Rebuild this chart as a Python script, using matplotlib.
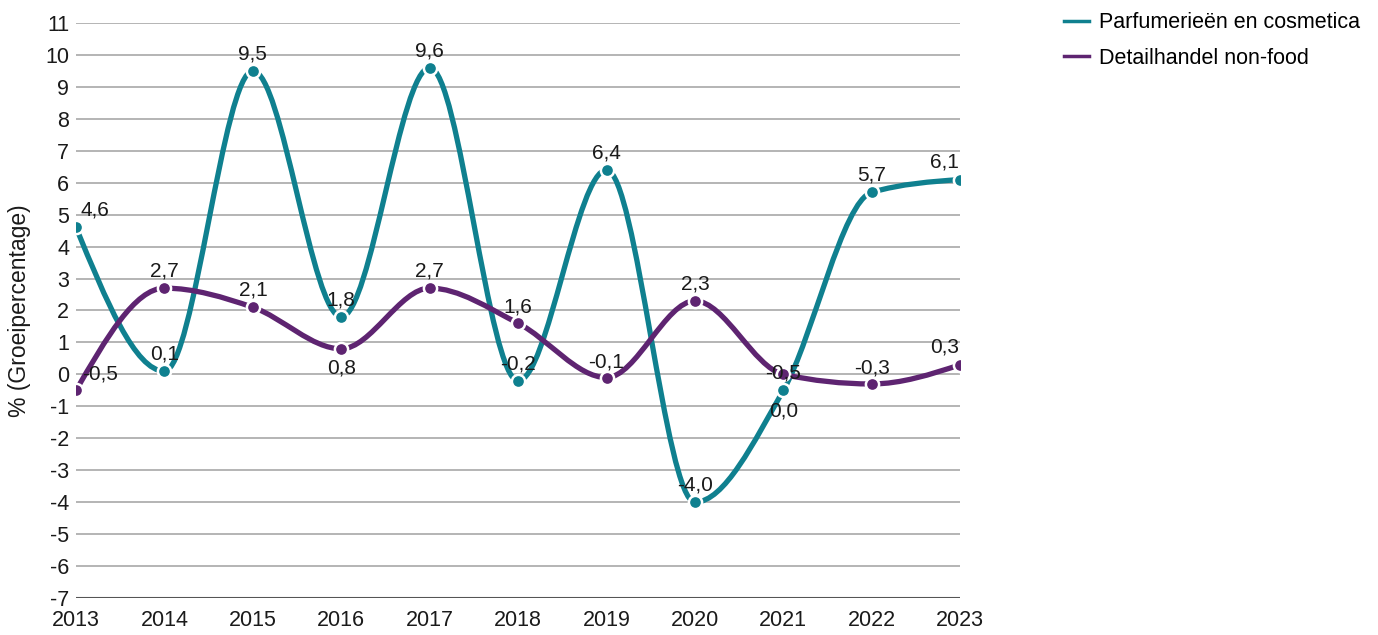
import numpy as np
import matplotlib.pyplot as plt
from matplotlib.path import Path
from matplotlib.patches import PathPatch

plt.rcParams['font.family'] = ['Liberation Sans', 'DejaVu Sans']
plt.rcParams['axes.unicode_minus'] = False

years = [2013, 2014, 2015, 2016, 2017, 2018, 2019, 2020, 2021, 2022, 2023]
parfum = [4.6, 0.1, 9.5, 1.8, 9.6, -0.2, 6.4, -4.0, -0.5, 5.7, 6.1]
detail = [-0.5, 2.7, 2.1, 0.8, 2.7, 1.6, -0.1, 2.3, 0.0, -0.3, 0.3]
series_names = ['Parfumerieën en cosmetica', 'Detailhandel non-food']
colors = ['#0f808f', '#5e2471']

# label offsets in pixels (dx, dy, ha)
offs_parfum = [(4, 17, 'left')] + [(0, 17, 'center')] * 9 + [(-16, 18, 'center')]
offs_detail = [(6, 16, 'left'), (0, 17, 'center'), (0, 17, 'center'), (0, -19, 'center'),
               (0, 17, 'center'), (0, 16, 'center'), (0, 16, 'center'), (0, 17, 'center'),
               (0, -37, 'center'), (0, 16, 'center'), (-16, 18, 'center')]


def monotone_path(x, y):
    # monotone cubic (like d3 curveMonotoneX) as bezier segments
    x = np.asarray(x, float)
    y = np.asarray(y, float)
    n = len(x)
    h = np.diff(x)
    s = np.diff(y) / h
    t = np.zeros(n)
    for i in range(1, n - 1):
        p = (s[i - 1] * h[i] + s[i] * h[i - 1]) / (h[i - 1] + h[i])
        t[i] = (np.sign(s[i - 1]) + np.sign(s[i])) * min(abs(s[i - 1]), abs(s[i]), 0.5 * abs(p))
    t[0] = (3 * s[0] - t[1]) / 2
    t[-1] = (3 * s[-1] - t[-2]) / 2
    verts = [(x[0], y[0])]
    codes = [Path.MOVETO]
    for i in range(n - 1):
        d = h[i] / 3
        verts += [(x[i] + d, y[i] + d * t[i]), (x[i + 1] - d, y[i + 1] - d * t[i + 1]),
                  (x[i + 1], y[i + 1])]
        codes += [Path.CURVE4] * 3
    return Path(verts, codes)


fig = plt.figure(figsize=(13.78, 6.35), dpi=100)
ax = fig.add_axes([0.0552, 0.0583, 0.6416, 0.9055])

for vals, name, col, offs in [(parfum, series_names[0], colors[0], offs_parfum),
                              (detail, series_names[1], colors[1], offs_detail)]:
    ax.add_patch(PathPatch(monotone_path(years, vals), fill=False, edgecolor=col,
                           lw=3.8, capstyle='round', zorder=3))
    ax.plot(years, vals, ls='none', marker='o', ms=9.5, mfc=col, mec='white',
            mew=1.8, zorder=4)
    ax.plot([], [], color=col, lw=2.5, label=name)
    for xv, yv, (dx, dy, ha) in zip(years, vals, offs):
        ax.annotate(f'{yv:.1f}'.replace('.', ','), (xv, yv), xytext=(dx, dy),
                    textcoords='offset pixels', ha=ha, va='center',
                    fontsize=15, color='#1a1a1a', zorder=5)

ax.set_xlim(2013, 2023)
ax.set_ylim(-7, 11)
ax.set_yticks(range(-7, 12))
ax.set_xticks(years)
ax.grid(axis='y', color='#a0a0a0', lw=1.1)
ax.axhline(-7, color='#555555', lw=1.5, zorder=2)
for s in ax.spines.values():
    s.set_visible(False)
ax.tick_params(length=0, labelsize=15.5, colors='#1a1a1a')
ax.tick_params(axis='y', pad=5)
ax.tick_params(axis='x', pad=9)
ax.set_ylabel('% (Groeipercentage)', fontsize=16.5, color='#1a1a1a', labelpad=10)

fig.legend(loc='upper left', bbox_to_anchor=(0.758, 1.011), frameon=False,
           fontsize=15.5, handlelength=1.16, labelspacing=0.67, handletextpad=0.47)

fig.savefig('out.png', dpi=100)
